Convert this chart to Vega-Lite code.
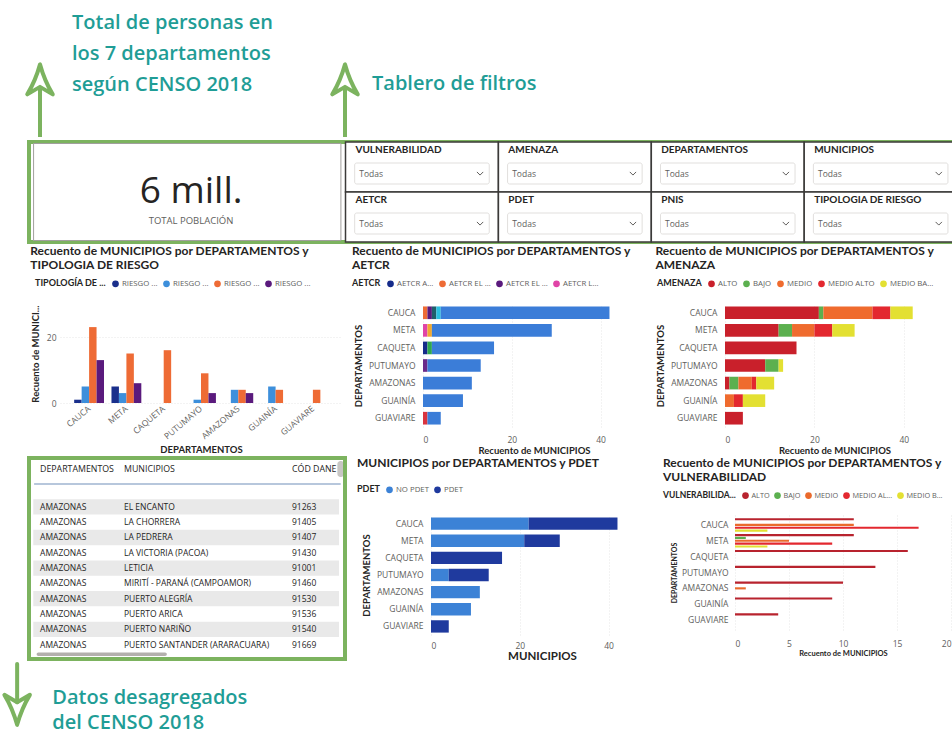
{
  "$schema": "https://vega.github.io/schema/vega-lite/v6.json",
  "background": "white",
  "padding": 0,
  "config": {
    "view": {"stroke": null},
    "font": "Open Sans",
    "title": {"font": "Lato", "fontSize": 12, "fontWeight": "bold", "color": "#252423", "anchor": "start", "frame": "bounds", "offset": 7, "lineHeight": 14},
    "axis": {"labelFont": "Open Sans", "labelFontSize": 8.5, "labelColor": "#605e5c", "titleFont": "Lato", "titleFontSize": 9.5, "titleFontWeight": "bold", "titleColor": "#252423", "domain": false, "ticks": false, "grid": false, "gridColor": "#e6e6e6", "gridDash": [1, 2]},
    "legend": {"orient": "none", "direction": "horizontal", "titleOrient": "left", "symbolType": "circle", "symbolSize": 45, "labelFont": "Open Sans", "labelFontSize": 7.8, "labelColor": "#605e5c", "titleFont": "Lato", "titleFontSize": 9, "titleFontWeight": "bold", "titleColor": "#252423", "columnPadding": 4, "labelOffset": 2, "titlePadding": 5, "padding": 0, "labelLimit": 120, "titleLimit": 120}
  },
  "resolve": {"scale": {"color": "independent"}, "legend": {"color": "independent"}},
  "datasets": {
    "notas": [
      {"nota": "censo", "texto": "Total de personas en\nlos 7 departamentos\nsegún CENSO 2018"},
      {"nota": "filtros", "texto": "Tablero de filtros"}
    ],
    "kpi": [{"indicador": "TOTAL POBLACIÓN", "valor": "6 mill."}],
    "filtros": [
      {"filtro": "VULNERABILIDAD", "seleccion": "Todas"},
      {"filtro": "AMENAZA", "seleccion": "Todas"},
      {"filtro": "DEPARTAMENTOS", "seleccion": "Todas"},
      {"filtro": "MUNICIPIOS", "seleccion": "Todas"},
      {"filtro": "AETCR", "seleccion": "Todas"},
      {"filtro": "PDET", "seleccion": "Todas"},
      {"filtro": "PNIS", "seleccion": "Todas"},
      {"filtro": "TIPOLOGIA DE RIESGO", "seleccion": "Todas"}
    ],
    "riesgo": [
      {"departamento": "CAUCA", "tipologia": "RIESGO ALTO", "municipios": 1},
      {"departamento": "CAUCA", "tipologia": "RIESGO BAJO", "municipios": 5},
      {"departamento": "CAUCA", "tipologia": "RIESGO EXTREMO", "municipios": 23},
      {"departamento": "CAUCA", "tipologia": "RIESGO MEDIO", "municipios": 13},
      {"departamento": "META", "tipologia": "RIESGO ALTO", "municipios": 5},
      {"departamento": "META", "tipologia": "RIESGO BAJO", "municipios": 3},
      {"departamento": "META", "tipologia": "RIESGO EXTREMO", "municipios": 15},
      {"departamento": "META", "tipologia": "RIESGO MEDIO", "municipios": 6},
      {"departamento": "CAQUETA", "tipologia": "RIESGO EXTREMO", "municipios": 16},
      {"departamento": "PUTUMAYO", "tipologia": "RIESGO BAJO", "municipios": 1},
      {"departamento": "PUTUMAYO", "tipologia": "RIESGO EXTREMO", "municipios": 9},
      {"departamento": "PUTUMAYO", "tipologia": "RIESGO MEDIO", "municipios": 3},
      {"departamento": "AMAZONAS", "tipologia": "RIESGO BAJO", "municipios": 4},
      {"departamento": "AMAZONAS", "tipologia": "RIESGO EXTREMO", "municipios": 4},
      {"departamento": "AMAZONAS", "tipologia": "RIESGO MEDIO", "municipios": 3},
      {"departamento": "GUAINÍA", "tipologia": "RIESGO BAJO", "municipios": 5},
      {"departamento": "GUAINÍA", "tipologia": "RIESGO EXTREMO", "municipios": 4},
      {"departamento": "GUAVIARE", "tipologia": "RIESGO EXTREMO", "municipios": 4}
    ],
    "aetcr": [
      {"departamento": "CAUCA", "aetcr": "AETCR EL ESTRECHO", "municipios": 1},
      {"departamento": "CAUCA", "aetcr": "AETCR EL DIAMANTE", "municipios": 1},
      {"departamento": "CAUCA", "aetcr": "AETCR LOS MONOS", "municipios": 1},
      {"departamento": "CAUCA", "aetcr": "AETCR LA ELVIRA", "municipios": 1},
      {"departamento": "CAUCA", "aetcr": "NO APLICA", "municipios": 38},
      {"departamento": "META", "aetcr": "AETCR LA GUAJIRA", "municipios": 1},
      {"departamento": "META", "aetcr": "AETCR LA REFORMA", "municipios": 1},
      {"departamento": "META", "aetcr": "NO APLICA", "municipios": 27},
      {"departamento": "CAQUETA", "aetcr": "AETCR AGUA BONITA", "municipios": 1},
      {"departamento": "CAQUETA", "aetcr": "AETCR MIRAVALLE", "municipios": 1},
      {"departamento": "CAQUETA", "aetcr": "NO APLICA", "municipios": 14},
      {"departamento": "PUTUMAYO", "aetcr": "AETCR LA CARMELITA", "municipios": 1},
      {"departamento": "PUTUMAYO", "aetcr": "NO APLICA", "municipios": 12},
      {"departamento": "AMAZONAS", "aetcr": "NO APLICA", "municipios": 11},
      {"departamento": "GUAINÍA", "aetcr": "NO APLICA", "municipios": 9},
      {"departamento": "GUAVIARE", "aetcr": "AETCR CHARRAS", "municipios": 1},
      {"departamento": "GUAVIARE", "aetcr": "NO APLICA", "municipios": 3}
    ],
    "amenaza": [
      {"departamento": "CAUCA", "amenaza": "ALTO", "municipios": 21},
      {"departamento": "CAUCA", "amenaza": "BAJO", "municipios": 1},
      {"departamento": "CAUCA", "amenaza": "MEDIO", "municipios": 11},
      {"departamento": "CAUCA", "amenaza": "MEDIO ALTO", "municipios": 4},
      {"departamento": "CAUCA", "amenaza": "MEDIO BAJO", "municipios": 5},
      {"departamento": "META", "amenaza": "ALTO", "municipios": 12},
      {"departamento": "META", "amenaza": "BAJO", "municipios": 3},
      {"departamento": "META", "amenaza": "MEDIO", "municipios": 5},
      {"departamento": "META", "amenaza": "MEDIO ALTO", "municipios": 4},
      {"departamento": "META", "amenaza": "MEDIO BAJO", "municipios": 5},
      {"departamento": "CAQUETA", "amenaza": "ALTO", "municipios": 16},
      {"departamento": "PUTUMAYO", "amenaza": "ALTO", "municipios": 9},
      {"departamento": "PUTUMAYO", "amenaza": "BAJO", "municipios": 3},
      {"departamento": "PUTUMAYO", "amenaza": "MEDIO BAJO", "municipios": 1},
      {"departamento": "AMAZONAS", "amenaza": "ALTO", "municipios": 1},
      {"departamento": "AMAZONAS", "amenaza": "BAJO", "municipios": 2},
      {"departamento": "AMAZONAS", "amenaza": "MEDIO", "municipios": 3},
      {"departamento": "AMAZONAS", "amenaza": "MEDIO ALTO", "municipios": 1},
      {"departamento": "AMAZONAS", "amenaza": "MEDIO BAJO", "municipios": 4},
      {"departamento": "GUAINÍA", "amenaza": "MEDIO", "municipios": 2},
      {"departamento": "GUAINÍA", "amenaza": "MEDIO ALTO", "municipios": 2},
      {"departamento": "GUAINÍA", "amenaza": "MEDIO BAJO", "municipios": 5},
      {"departamento": "GUAVIARE", "amenaza": "ALTO", "municipios": 4}
    ],
    "pdet": [
      {"departamento": "CAUCA", "pdet": "NO PDET", "municipios": 22},
      {"departamento": "CAUCA", "pdet": "PDET", "municipios": 20},
      {"departamento": "META", "pdet": "NO PDET", "municipios": 21},
      {"departamento": "META", "pdet": "PDET", "municipios": 8},
      {"departamento": "CAQUETA", "pdet": "PDET", "municipios": 16},
      {"departamento": "PUTUMAYO", "pdet": "NO PDET", "municipios": 4},
      {"departamento": "PUTUMAYO", "pdet": "PDET", "municipios": 9},
      {"departamento": "AMAZONAS", "pdet": "NO PDET", "municipios": 11},
      {"departamento": "GUAINÍA", "pdet": "NO PDET", "municipios": 9},
      {"departamento": "GUAVIARE", "pdet": "PDET", "municipios": 4}
    ],
    "vulnerabilidad": [
      {"departamento": "CAUCA", "vulnerabilidad": "ALTO", "municipios": 11},
      {"departamento": "CAUCA", "vulnerabilidad": "MEDIO", "municipios": 11},
      {"departamento": "CAUCA", "vulnerabilidad": "MEDIO ALTO", "municipios": 17},
      {"departamento": "CAUCA", "vulnerabilidad": "MEDIO BAJO", "municipios": 3},
      {"departamento": "META", "vulnerabilidad": "ALTO", "municipios": 11},
      {"departamento": "META", "vulnerabilidad": "BAJO", "municipios": 1},
      {"departamento": "META", "vulnerabilidad": "MEDIO", "municipios": 5},
      {"departamento": "META", "vulnerabilidad": "MEDIO ALTO", "municipios": 9},
      {"departamento": "META", "vulnerabilidad": "MEDIO BAJO", "municipios": 3},
      {"departamento": "CAQUETA", "vulnerabilidad": "ALTO", "municipios": 16},
      {"departamento": "PUTUMAYO", "vulnerabilidad": "ALTO", "municipios": 13},
      {"departamento": "AMAZONAS", "vulnerabilidad": "ALTO", "municipios": 10},
      {"departamento": "AMAZONAS", "vulnerabilidad": "MEDIO", "municipios": 1},
      {"departamento": "GUAINÍA", "vulnerabilidad": "ALTO", "municipios": 9},
      {"departamento": "GUAVIARE", "vulnerabilidad": "ALTO", "municipios": 4}
    ],
    "tabla": [
      {"departamento": "AMAZONAS", "municipio": "EL ENCANTO", "codigo": "91263"},
      {"departamento": "AMAZONAS", "municipio": "LA CHORRERA", "codigo": "91405"},
      {"departamento": "AMAZONAS", "municipio": "LA PEDRERA", "codigo": "91407"},
      {"departamento": "AMAZONAS", "municipio": "LA VICTORIA (PACOA)", "codigo": "91430"},
      {"departamento": "AMAZONAS", "municipio": "LETICIA", "codigo": "91001"},
      {"departamento": "AMAZONAS", "municipio": "MIRITÍ - PARANÁ (CAMPOAMOR)", "codigo": "91460"},
      {"departamento": "AMAZONAS", "municipio": "PUERTO ALEGRÍA", "codigo": "91530"},
      {"departamento": "AMAZONAS", "municipio": "PUERTO ARICA", "codigo": "91536"},
      {"departamento": "AMAZONAS", "municipio": "PUERTO NARIÑO", "codigo": "91540"},
      {"departamento": "AMAZONAS", "municipio": "PUERTO SANTANDER (ARARACUARA)", "codigo": "91669"}
    ],
    "encabezado": [
      {"campo": "departamento", "titulo": "DEPARTAMENTOS"},
      {"campo": "municipio", "titulo": "MUNICIPIOS"},
      {"campo": "codigo", "titulo": "CÓD DANE"}
    ]
  },
  "vconcat": [
    {
      "width": 952,
      "height": 137,
      "data": {"name": "notas"},
      "layer": [
        {
          "mark": {"type": "rule", "color": "#7cb35f", "strokeWidth": 4, "strokeCap": "butt"},
          "encoding": {
            "x": {"field": "nota", "type": "nominal", "scale": {"type": "point", "domain": ["censo", "filtros"], "range": [40, 345], "padding": 0}, "axis": null},
            "y": {"datum": 0, "type": "quantitative", "scale": {"domain": [0, 1], "nice": false, "zero": false}, "axis": null},
            "y2": {"datum": 0.37}
          }
        },
        {
          "mark": {"type": "point", "shape": "M0,0 Q-0.3,1.1 -0.85,2 L0,1.5 L0.85,2 Q0.3,1.1 0,0 Z", "filled": false, "stroke": "#7cb35f", "strokeWidth": 4, "strokeJoin": "round", "size": 900, "opacity": 1},
          "encoding": {
            "x": {"field": "nota", "type": "nominal", "scale": {"type": "point", "domain": ["censo", "filtros"], "range": [40, 345], "padding": 0}, "axis": null},
            "y": {"datum": 0.53, "type": "quantitative", "scale": {"domain": [0, 1], "nice": false, "zero": false}, "axis": null}
          }
        },
        {
          "mark": {"type": "text", "align": "left", "baseline": "middle", "font": "Open Sans", "fontSize": 20, "fontWeight": 600, "color": "#1f9d96", "lineBreak": "\n", "lineHeight": 31},
          "encoding": {
            "x": {"field": "nota", "type": "nominal", "scale": {"type": "point", "domain": ["censo", "filtros"], "range": [72, 372], "padding": 0}, "axis": null},
            "y": {"field": "nota", "type": "nominal", "scale": {"type": "point", "domain": ["censo", "filtros"], "range": [23, 84], "padding": 0}, "axis": null},
            "text": {"field": "texto"}
          }
        }
      ],
      "resolve": {"scale": {"x": "independent", "y": "independent"}}
    },
    {
      "spacing": 0,
      "hconcat": [
        {"width": 27, "height": 1, "data": {"values": [{}]}, "mark": {"type": "point", "opacity": 0, "size": 0}},
        {
          "width": 922,
          "height": 100,
          "view": {"stroke": "#7cb35f", "strokeWidth": 4},
          "layer": [
            {
              "data": {"name": "kpi"},
              "layer": [
                {
                  "mark": {"type": "rect", "fill": "white", "stroke": "#a19f9d", "strokeWidth": 1},
                  "encoding": {
                    "x": {"datum": -0.04, "type": "quantitative", "scale": {"domain": [-0.07, 5.96], "nice": false, "zero": false}, "axis": null},
                    "x2": {"datum": 1.97},
                    "y": {"datum": 0.03, "type": "quantitative", "scale": {"domain": [0, 2], "nice": false, "zero": false, "reverse": true}, "axis": null},
                    "y2": {"datum": 1.97}
                  }
                },
                {
                  "mark": {"type": "text", "align": "center", "baseline": "middle", "font": "Open Sans", "fontSize": 37, "color": "#252423"},
                  "encoding": {
                    "x": {"datum": 0.99, "type": "quantitative", "scale": {"domain": [-0.07, 5.96], "nice": false, "zero": false}, "axis": null},
                    "y": {"datum": 1.0, "type": "quantitative", "scale": {"domain": [0, 2], "nice": false, "zero": false, "reverse": true}, "axis": null},
                    "text": {"field": "valor"}
                  }
                },
                {
                  "mark": {"type": "text", "align": "center", "baseline": "middle", "font": "Open Sans", "fontSize": 9.5, "color": "#605e5c"},
                  "encoding": {
                    "x": {"datum": 0.99, "type": "quantitative", "scale": {"domain": [-0.07, 5.96], "nice": false, "zero": false}, "axis": null},
                    "y": {"datum": 1.58, "type": "quantitative", "scale": {"domain": [0, 2], "nice": false, "zero": false, "reverse": true}, "axis": null},
                    "text": {"field": "indicador"}
                  }
                }
              ]
            },
            {
              "data": {"name": "filtros"},
              "transform": [
                {"window": [{"op": "row_number", "as": "n"}]},
                {"calculate": "2 + (datum.n - 1) % 4", "as": "x0"},
                {"calculate": "datum.x0 + 1", "as": "x1"},
                {"calculate": "floor((datum.n - 1) / 4)", "as": "y0"},
                {"calculate": "datum.y0 + 1", "as": "y1"},
                {"calculate": "datum.x0 + 0.065", "as": "xt"},
                {"calculate": "datum.y0 + 0.16", "as": "yt"},
                {"calculate": "datum.x0 + 0.06", "as": "bx0"},
                {"calculate": "datum.x1 - 0.06", "as": "bx1"},
                {"calculate": "datum.y0 + 0.42", "as": "by0"},
                {"calculate": "datum.y0 + 0.84", "as": "by1"},
                {"calculate": "datum.x0 + 0.09", "as": "xs"},
                {"calculate": "datum.y0 + 0.63", "as": "ym"},
                {"calculate": "datum.x1 - 0.12", "as": "xc"}
              ],
              "layer": [
                {
                  "mark": {"type": "rect", "fill": "white", "stroke": "#3b3a39", "strokeWidth": 1.5},
                  "encoding": {
                    "x": {"field": "x0", "type": "quantitative", "scale": {"domain": [-0.07, 5.96], "nice": false, "zero": false}, "axis": null},
                    "x2": {"field": "x1"},
                    "y": {"field": "y0", "type": "quantitative", "scale": {"domain": [0, 2], "nice": false, "zero": false, "reverse": true}, "axis": null},
                    "y2": {"field": "y1"}
                  }
                },
                {
                  "mark": {"type": "text", "align": "left", "baseline": "middle", "font": "Lato", "fontWeight": "bold", "fontSize": 10, "color": "#252423"},
                  "encoding": {
                    "x": {"field": "xt", "type": "quantitative", "scale": {"domain": [-0.07, 5.96], "nice": false, "zero": false}, "axis": null},
                    "y": {"field": "yt", "type": "quantitative", "scale": {"domain": [0, 2], "nice": false, "zero": false, "reverse": true}, "axis": null},
                    "text": {"field": "filtro"}
                  }
                },
                {
                  "mark": {"type": "rect", "fill": "white", "stroke": "#e1dfdd", "strokeWidth": 1, "cornerRadius": 2},
                  "encoding": {
                    "x": {"field": "bx0", "type": "quantitative", "scale": {"domain": [-0.07, 5.96], "nice": false, "zero": false}, "axis": null},
                    "x2": {"field": "bx1"},
                    "y": {"field": "by0", "type": "quantitative", "scale": {"domain": [0, 2], "nice": false, "zero": false, "reverse": true}, "axis": null},
                    "y2": {"field": "by1"}
                  }
                },
                {
                  "mark": {"type": "text", "align": "left", "baseline": "middle", "font": "Open Sans", "fontSize": 8.5, "color": "#605e5c"},
                  "encoding": {
                    "x": {"field": "xs", "type": "quantitative", "scale": {"domain": [-0.07, 5.96], "nice": false, "zero": false}, "axis": null},
                    "y": {"field": "ym", "type": "quantitative", "scale": {"domain": [0, 2], "nice": false, "zero": false, "reverse": true}, "axis": null},
                    "text": {"field": "seleccion"}
                  }
                },
                {
                  "mark": {"type": "point", "shape": "M-1,-0.5 L0,0.5 L1,-0.5", "filled": false, "stroke": "#605e5c", "strokeWidth": 1, "size": 40, "opacity": 1},
                  "encoding": {
                    "x": {"field": "xc", "type": "quantitative", "scale": {"domain": [-0.07, 5.96], "nice": false, "zero": false}, "axis": null},
                    "y": {"field": "ym", "type": "quantitative", "scale": {"domain": [0, 2], "nice": false, "zero": false, "reverse": true}, "axis": null}
                  }
                }
              ]
            }
          ]
        }
      ]
    },
    {
      "spacing": 10,
      "resolve": {"scale": {"color": "independent"}, "legend": {"color": "independent"}},
      "hconcat": [
        {"width": 20, "height": 1, "data": {"values": [{}]}, "mark": {"type": "point", "opacity": 0, "size": 0}},
        {
          "width": 282,
          "height": 99,
          "title": {"text": ["Recuento de MUNICIPIOS por DEPARTAMENTOS y", "TIPOLOGIA DE RIESGO"]},
          "data": {"name": "riesgo"},
          "mark": {"type": "bar"},
          "encoding": {
            "x": {"field": "departamento", "type": "nominal", "sort": ["CAUCA", "META", "CAQUETA", "PUTUMAYO", "AMAZONAS", "GUAINÍA", "GUAVIARE"], "scale": {"paddingInner": 0.2, "paddingOuter": 0.38}, "axis": {"title": "DEPARTAMENTOS", "labelAngle": -40, "labelAlign": "right", "labelBaseline": "middle", "labelPadding": 4, "titlePadding": 4}},
            "xOffset": {"field": "tipologia", "type": "nominal", "scale": {"domain": ["RIESGO ALTO", "RIESGO BAJO", "RIESGO EXTREMO", "RIESGO MEDIO"]}},
            "y": {"field": "municipios", "type": "quantitative", "scale": {"domain": [0, 30], "nice": false}, "axis": {"title": "Recuento de MUNICI...", "values": [0, 20], "grid": true, "titlePadding": 6, "labelPadding": 4}},
            "color": {"field": "tipologia", "type": "nominal", "scale": {"domain": ["RIESGO ALTO", "RIESGO BAJO", "RIESGO EXTREMO", "RIESGO MEDIO"], "range": ["#1a2f8c", "#3d8fdb", "#ee6b35", "#5a1a7d"]}, "legend": {"title": "TIPOLOGÍA DE ...", "labelExpr": "'RIESGO ...'", "legendX": -25, "legendY": -25}}
          }
        },
        {
          "width": 222,
          "height": 123,
          "title": {"text": ["Recuento de MUNICIPIOS por DEPARTAMENTOS y", "AETCR"]},
          "data": {"name": "aetcr"},
          "transform": [{"calculate": "indexof(['AETCR AGUA BONITA','AETCR EL ESTRECHO','AETCR EL DIAMANTE','AETCR LA GUAJIRA','AETCR LOS MONOS','AETCR LA ELVIRA','AETCR LA REFORMA','AETCR MIRAVALLE','AETCR LA CARMELITA','AETCR CHARRAS','NO APLICA'], datum.aetcr)", "as": "orden"}],
          "mark": {"type": "bar"},
          "encoding": {
            "y": {"field": "departamento", "type": "nominal", "sort": ["CAUCA", "META", "CAQUETA", "PUTUMAYO", "AMAZONAS", "GUAINÍA", "GUAVIARE"], "scale": {"paddingInner": 0.28, "paddingOuter": 0.14}, "axis": {"title": "DEPARTAMENTOS", "labelPadding": 8, "titlePadding": 5}},
            "x": {"field": "municipios", "type": "quantitative", "scale": {"domain": [0, 50], "nice": false}, "axis": {"title": "Recuento de MUNICIPIOS", "values": [0, 20, 40], "grid": true, "labelPadding": 8, "titlePadding": 2}},
            "color": {"field": "aetcr", "type": "nominal", "scale": {"domain": ["AETCR AGUA BONITA", "AETCR EL ESTRECHO", "AETCR EL DIAMANTE", "AETCR LA GUAJIRA", "AETCR LOS MONOS", "AETCR LA ELVIRA", "AETCR LA REFORMA", "AETCR MIRAVALLE", "AETCR LA CARMELITA", "AETCR CHARRAS", "NO APLICA"], "range": ["#152b8a", "#ee6b35", "#5a1a7d", "#e044a7", "#1f5f6b", "#2bbfe0", "#f0a830", "#2fa84f", "#6a2a8a", "#d9343f", "#3b7dd8"]}, "legend": {"title": "AETCR", "values": ["AETCR AGUA BONITA", "AETCR EL ESTRECHO", "AETCR EL DIAMANTE", "AETCR LA GUAJIRA"], "labelExpr": "datum.label == 'AETCR AGUA BONITA' ? 'AETCR A...' : datum.label == 'AETCR LA GUAJIRA' ? 'AETCR L...' : 'AETCR EL ...'", "legendX": -71, "legendY": -25}},
            "order": {"field": "orden", "type": "quantitative", "sort": "ascending"}
          }
        },
        {
          "width": 219,
          "height": 123,
          "title": {"text": ["Recuento de MUNICIPIOS por DEPARTAMENTOS y", "AMENAZA"]},
          "data": {"name": "amenaza"},
          "transform": [{"calculate": "indexof(['ALTO','BAJO','MEDIO','MEDIO ALTO','MEDIO BAJO'], datum.amenaza)", "as": "orden"}],
          "mark": {"type": "bar"},
          "encoding": {
            "y": {"field": "departamento", "type": "nominal", "sort": ["CAUCA", "META", "CAQUETA", "PUTUMAYO", "AMAZONAS", "GUAINÍA", "GUAVIARE"], "scale": {"paddingInner": 0.28, "paddingOuter": 0.14}, "axis": {"title": "DEPARTAMENTOS", "labelPadding": 8, "titlePadding": 5}},
            "x": {"field": "municipios", "type": "quantitative", "scale": {"domain": [0, 49], "nice": false}, "axis": {"title": "Recuento de MUNICIPIOS", "values": [0, 20, 40], "grid": true, "labelPadding": 8, "titlePadding": 2}},
            "color": {"field": "amenaza", "type": "nominal", "scale": {"domain": ["ALTO", "BAJO", "MEDIO", "MEDIO ALTO", "MEDIO BAJO"], "range": ["#c9202b", "#5cb04f", "#ef6b2e", "#e3282f", "#e3e032"]}, "legend": {"title": "AMENAZA", "labelExpr": "datum.label == 'MEDIO BAJO' ? 'MEDIO BA...' : datum.label", "legendX": -68, "legendY": -25}},
            "order": {"field": "orden", "type": "quantitative", "sort": "ascending"}
          }
        }
      ]
    },
    {
      "spacing": 10,
      "resolve": {"scale": {"color": "independent"}, "legend": {"color": "independent"}},
      "hconcat": [
        {"width": 17, "height": 1, "data": {"values": [{}]}, "mark": {"type": "point", "opacity": 0, "size": 0}},
        {
          "width": 316,
          "height": 144,
          "layer": [
            {
              "data": {"name": "tabla"},
              "transform": [
                {"window": [{"op": "row_number", "as": "n"}]},
                {"filter": "datum.n % 2 == 1"},
                {"calculate": "datum.n + 1.7", "as": "ya"},
                {"calculate": "datum.n + 2.7", "as": "yb"}
              ],
              "mark": {"type": "rect", "fill": "#e9e9e9"},
              "encoding": {
                "x": {"datum": -0.08, "type": "quantitative", "scale": {"domain": [-0.131, 3.631], "nice": false, "zero": false}, "axis": null},
                "x2": {"datum": 3.56},
                "y": {"field": "ya", "type": "quantitative", "scale": {"domain": [3.73, 13.14], "nice": false, "zero": false, "reverse": true}, "axis": null},
                "y2": {"field": "yb"}
              }
            },
            {
              "data": {"name": "tabla"},
              "transform": [
                {"window": [{"op": "row_number", "as": "n"}]},
                {"fold": ["departamento", "municipio", "codigo"], "as": ["campo", "valor"]},
                {"calculate": "indexof(['departamento','municipio','','codigo'], datum.campo)", "as": "col"},
                {"calculate": "datum.n + 2.2", "as": "yc"}
              ],
              "mark": {"type": "text", "align": "left", "baseline": "middle", "font": "Open Sans", "fontSize": 8.5, "color": "#252423"},
              "encoding": {
                "x": {"field": "col", "type": "quantitative", "scale": {"domain": [-0.131, 3.631], "nice": false, "zero": false}, "axis": null},
                "y": {"field": "yc", "type": "quantitative", "scale": {"domain": [3.73, 13.14], "nice": false, "zero": false, "reverse": true}, "axis": null},
                "text": {"field": "valor"}
              }
            },
            {
              "data": {"name": "encabezado"},
              "transform": [{"calculate": "indexof(['departamento','municipio','','codigo'], datum.campo)", "as": "col"}],
              "mark": {"type": "text", "align": "left", "baseline": "middle", "font": "Open Sans", "fontSize": 8.8, "color": "#252423"},
              "encoding": {
                "x": {"field": "col", "type": "quantitative", "scale": {"domain": [-0.131, 3.631], "nice": false, "zero": false}, "axis": null},
                "y": {"datum": 0.72, "type": "quantitative", "scale": {"domain": [3.73, 13.14], "nice": false, "zero": false, "reverse": true}, "axis": null},
                "text": {"field": "titulo"}
              }
            },
            {
              "data": {"values": [{}]},
              "mark": {"type": "rule", "color": "#9fb4d0", "strokeWidth": 1.5},
              "encoding": {
                "x": {"datum": -0.07, "type": "quantitative", "scale": {"domain": [-0.131, 3.631], "nice": false, "zero": false}, "axis": null},
                "x2": {"datum": 3.58},
                "y": {"datum": 1.7, "type": "quantitative", "scale": {"domain": [3.73, 13.14], "nice": false, "zero": false, "reverse": true}, "axis": null}
              }
            },
            {
              "data": {"values": [{}]},
              "mark": {"type": "rect", "fill": "#c8c6c4", "cornerRadius": 3},
              "encoding": {
                "x": {"datum": 3.54, "type": "quantitative", "scale": {"domain": [-0.131, 3.631], "nice": false, "zero": false}, "axis": null},
                "x2": {"datum": 3.62},
                "y": {"datum": 0.2, "type": "quantitative", "scale": {"domain": [3.73, 13.14], "nice": false, "zero": false, "reverse": true}, "axis": null},
                "y2": {"datum": 1.25}
              }
            },
            {
              "data": {"values": [{}]},
              "mark": {"type": "rect", "fill": "#b3b0ad", "cornerRadius": 2},
              "encoding": {
                "x": {"datum": -0.04, "type": "quantitative", "scale": {"domain": [-0.131, 3.631], "nice": false, "zero": false}, "axis": null},
                "x2": {"datum": 1.51},
                "y": {"datum": 12.72, "type": "quantitative", "scale": {"domain": [3.73, 13.14], "nice": false, "zero": false, "reverse": true}, "axis": null},
                "y2": {"datum": 12.95}
              }
            },
            {
              "data": {"values": [{}]},
              "mark": {"type": "rect", "fill": null, "fillOpacity": 0, "stroke": "#7cb35f", "strokeWidth": 4},
              "encoding": {
                "x": {"datum": -0.131, "type": "quantitative", "scale": {"domain": [-0.131, 3.631], "nice": false, "zero": false}, "axis": null},
                "x2": {"datum": 3.631},
                "y": {"datum": 0, "type": "quantitative", "scale": {"domain": [3.73, 13.14], "nice": false, "zero": false, "reverse": true}, "axis": null},
                "y2": {"datum": 13.14}
              }
            }
          ]
        },
        {
          "width": 222,
          "height": 120,
          "title": {"text": "MUNICIPIOS por DEPARTAMENTOS y PDET", "dy": -8},
          "data": {"name": "pdet"},
          "transform": [{"calculate": "indexof(['NO PDET','PDET'], datum.pdet)", "as": "orden"}],
          "mark": {"type": "bar"},
          "encoding": {
            "y": {"field": "departamento", "type": "nominal", "sort": ["CAUCA", "META", "CAQUETA", "PUTUMAYO", "AMAZONAS", "GUAINÍA", "GUAVIARE"], "scale": {"paddingInner": 0.28, "paddingOuter": 0.14}, "axis": {"title": "DEPARTAMENTOS", "labelPadding": 8, "titlePadding": 5}},
            "x": {"field": "municipios", "type": "quantitative", "scale": {"domain": [0, 50], "nice": false}, "axis": {"title": "MUNICIPIOS", "titleFontSize": 11.5, "values": [0, 20, 40], "grid": true, "labelPadding": 6, "titlePadding": 1}},
            "color": {"field": "pdet", "type": "nominal", "scale": {"domain": ["NO PDET", "PDET"], "range": ["#3c82d6", "#1f3a9e"]}, "legend": {"title": "PDET", "legendX": -74, "legendY": -30}},
            "order": {"field": "orden", "type": "quantitative", "sort": "ascending"}
          }
        },
        {
          "width": 216,
          "height": 115,
          "title": {"text": ["Recuento de MUNICIPIOS por DEPARTAMENTOS y", "VULNERABILIDAD"]},
          "data": {"name": "vulnerabilidad"},
          "mark": {"type": "bar"},
          "encoding": {
            "y": {"field": "departamento", "type": "nominal", "sort": ["CAUCA", "META", "CAQUETA", "PUTUMAYO", "AMAZONAS", "GUAINÍA", "GUAVIARE"], "scale": {"paddingInner": 0.15, "paddingOuter": 0.2}, "axis": {"title": "DEPARTAMENTOS", "titleFontSize": 7, "labelPadding": 7, "titlePadding": 4}},
            "yOffset": {"field": "vulnerabilidad", "type": "nominal", "scale": {"domain": ["ALTO", "BAJO", "MEDIO", "MEDIO ALTO", "MEDIO BAJO"], "paddingInner": 0.25}},
            "x": {"field": "municipios", "type": "quantitative", "scale": {"domain": [0, 20], "nice": false}, "axis": {"title": "Recuento de MUNICIPIOS", "titleFontSize": 7.5, "values": [0, 5, 10, 15, 20], "grid": true, "labelPadding": 9, "titlePadding": 2}},
            "color": {"field": "vulnerabilidad", "type": "nominal", "scale": {"domain": ["ALTO", "BAJO", "MEDIO", "MEDIO ALTO", "MEDIO BAJO"], "range": ["#b8232e", "#5cb04f", "#ea6a2c", "#e3282f", "#e3e032"]}, "legend": {"title": "VULNERABILIDA...", "titleFontSize": 8.5, "labelFontSize": 7.3, "columnPadding": 3, "labelOffset": 1.5, "legendX": -72, "legendY": -24, "labelExpr": "datum.label == 'MEDIO ALTO' ? 'MEDIO AL...' : datum.label == 'MEDIO BAJO' ? 'MEDIO B...' : datum.label"}}
          }
        }
      ]
    },
    {
      "width": 952,
      "height": 72,
      "data": {"values": [{"texto": "Datos desagregados\ndel CENSO 2018"}]},
      "layer": [
        {
          "mark": {"type": "rule", "color": "#7cb35f", "strokeWidth": 4, "strokeCap": "round"},
          "encoding": {
            "x": {"datum": 0.018, "type": "quantitative", "scale": {"domain": [0, 1], "nice": false, "zero": false}, "axis": null},
            "y": {"datum": 1, "type": "quantitative", "scale": {"domain": [0, 1], "nice": false, "zero": false}, "axis": null},
            "y2": {"datum": 0.47}
          }
        },
        {
          "mark": {"type": "point", "shape": "M0,0 Q-0.3,-1.1 -0.85,-2 L0,-1.5 L0.85,-2 Q0.3,-1.1 0,0 Z", "filled": false, "stroke": "#7cb35f", "strokeWidth": 4, "strokeJoin": "round", "size": 900, "opacity": 1},
          "encoding": {
            "x": {"datum": 0.018, "type": "quantitative", "scale": {"domain": [0, 1], "nice": false, "zero": false}, "axis": null},
            "y": {"datum": 0.155, "type": "quantitative", "scale": {"domain": [0, 1], "nice": false, "zero": false}, "axis": null}
          }
        },
        {
          "mark": {"type": "text", "align": "left", "baseline": "middle", "font": "Open Sans", "fontSize": 20, "fontWeight": 600, "color": "#1f9d96", "lineBreak": "\n", "lineHeight": 25},
          "encoding": {
            "x": {"datum": 0.055, "type": "quantitative", "scale": {"domain": [0, 1], "nice": false, "zero": false}, "axis": null},
            "y": {"datum": 0.53, "type": "quantitative", "scale": {"domain": [0, 1], "nice": false, "zero": false}, "axis": null},
            "text": {"field": "texto"}
          }
        }
      ]
    }
  ],
  "spacing": 0
}
